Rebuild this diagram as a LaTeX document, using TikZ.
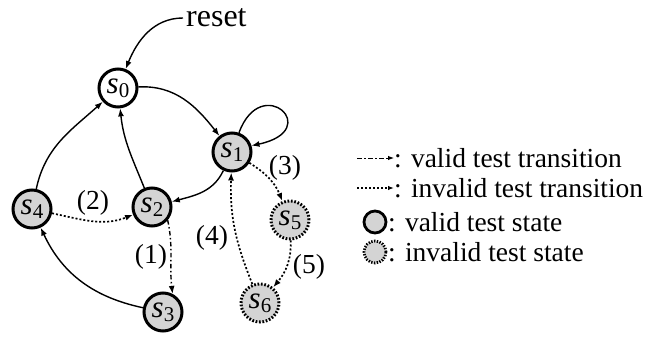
\documentclass[tikz,border=0pt]{standalone}
\usepackage{fontspec}
\setmainfont{Liberation Serif}
\usetikzlibrary{arrows.meta}
\definecolor{statefill}{RGB}{212,212,212}
\newcommand{\sname}[1]{{\fontsize{31}{31}\selectfont\itshape s}\raisebox{-4pt}{\fontsize{21}{21}\selectfont #1}}
\begin{document}
\begin{tikzpicture}[x=1pt,y=1pt,
  every node/.style={font=\fontsize{27.5}{30}\selectfont},
  vstate/.style={circle,draw,line width=3pt,minimum size=38pt,inner sep=0pt,fill=statefill},
  istate/.style={vstate,dash pattern=on 1.7pt off 1.7pt},
  edge/.style={line width=1.4pt,-{Latex[length=8pt,width=6pt]}},
  dd/.style={edge,dash pattern=on 4.5pt off 2.5pt on 1.5pt off 2.5pt},
  dt/.style={edge,line width=1.7pt,dash pattern=on 2pt off 2pt},
  lab/.style={inner sep=0pt}]
\useasboundingbox (0,0) rectangle (653,338);
\node[vstate,fill=white] (s0) at (118,250) {\sname{0}};
\node[vstate] (s1) at (232,186) {\sname{1}};
\node[vstate] (s2) at (152,131) {\sname{2}};
\node[vstate] (s3) at (163,26) {\sname{3}};
\node[vstate] (s4) at (32,129) {\sname{4}};
\node[istate] (s5) at (290,118) {\sname{5}};
\node[istate] (s6) at (260,35) {\sname{6}};
\node[inner sep=3pt,anchor=west,font=\fontsize{32}{32}\selectfont] (reset) at (183,320) {reset};
% edges
\draw[edge] (reset.west) to[out=180,in=68] (s0);
\draw[edge] (s0) to[out=3,in=128] (s1);
\draw[edge] (s1.70) .. controls +(70:65) and +(12:75) .. (s1.18);
\draw[edge] (s1) to[out=245,in=15] (s2);
\draw[edge] (s2) to[out=112,in=276] (s0);
\draw[edge] (s4) to[out=78,in=222] (s0);
\draw[edge] (s3) to[out=168,in=295] (s4);
\draw[dt] (s4) to[out=-12,in=202] (s2);
\draw[dd] (s2.-40) to[out=-78,in=97] (s3.62);
\draw[dt] (s1) to[out=-32,in=112] (s5);
\draw[dt] (s5) to[out=-88,in=50] (s6);
\draw[dt] (s6) to[out=112,in=268] (s1);
% labels
\node[lab] (l1) at (151,81) {(1)};
\node[lab] (l2) at (93,135) {(2)};
\node[lab] (l3) at (285,170) {(3)};
\node[lab] (l4) at (212,100) {(4)};
\node[lab] (l5) at (309,71) {(5)};
% legend
\coordinate (a1) at (357,180);
\coordinate (b1) at (394,180);
\coordinate (a2) at (357,150);
\coordinate (b2) at (394,150);
\draw[dd,line width=1pt,-{Latex[length=6pt,width=4.5pt]}] (a1) -- (b1);
\draw[dt,line width=1.2pt,-{Latex[length=6pt,width=4.5pt]}] (a2) -- (b2);
\node[anchor=west,inner sep=0pt] (t1) at (394,180) {: valid test transition};
\node[anchor=west,inner sep=0pt] (t2) at (394,150) {: invalid test transition};
\node[circle,draw,line width=2.8pt,fill=statefill,minimum size=22pt,inner sep=0pt] (c3) at (375,116) {};
\node[circle,draw,line width=2.8pt,fill=statefill,minimum size=22pt,inner sep=0pt,dash pattern=on 1.4pt off 1.4pt] (c4) at (375,86) {};
\node[anchor=west,inner sep=0pt] (t3) at (388,116) {: valid test state};
\node[anchor=west,inner sep=0pt] (t4) at (388,86) {: invalid test state};
\end{tikzpicture}
\end{document}
